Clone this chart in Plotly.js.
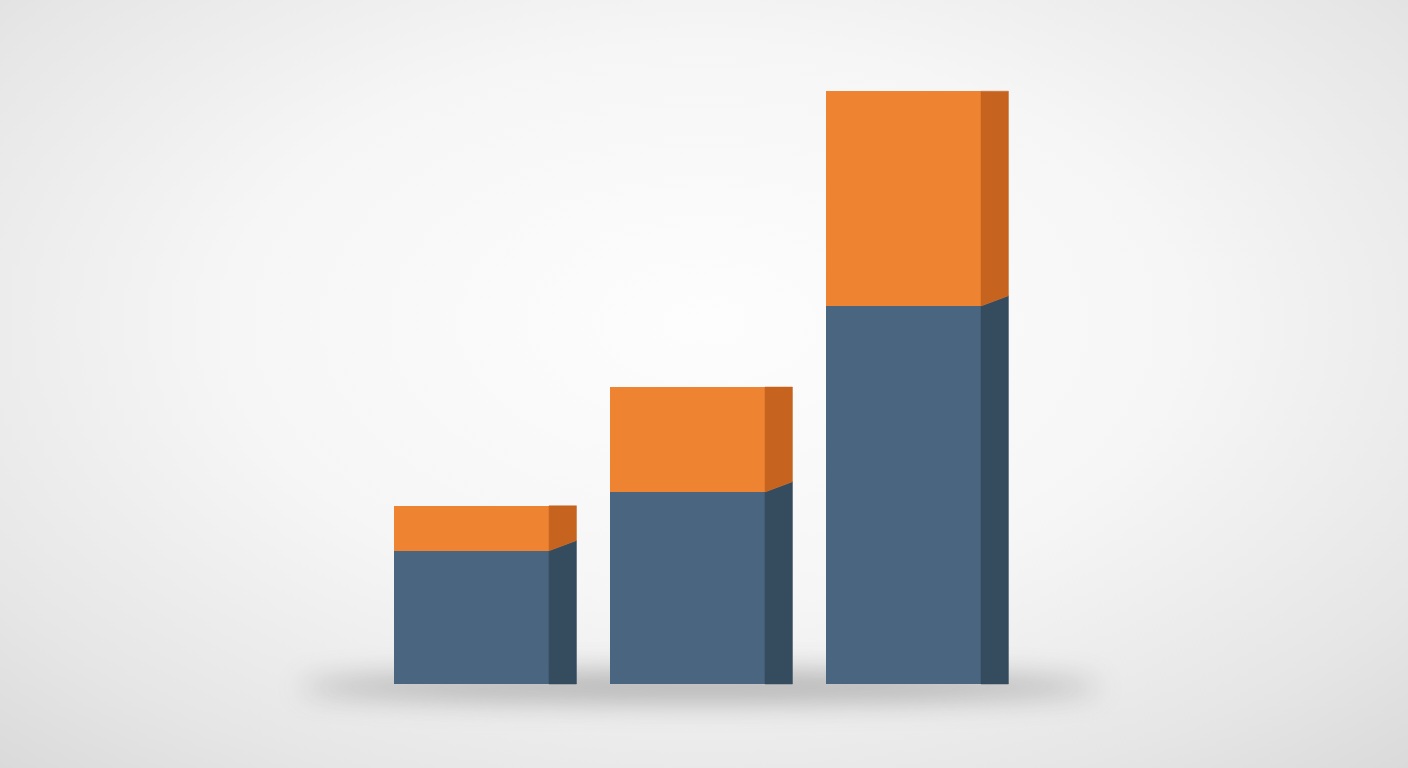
<!DOCTYPE html>
<html>
<head>
<meta charset="utf-8">
<script src="https://cdn.plot.ly/plotly-3.0.1.min.js"></script>
<style>
  html, body { margin:0; padding:0; width:1408px; height:768px; overflow:hidden; }
  body { background: radial-gradient(ellipse 75% 80% at 50% 42%, #fdfdfd 0%, #f6f6f6 45%, #e6e6e6 80%, #d9d9d9 100%); position:relative; }
  #shadow { position:absolute; left:300px; top:672px; width:800px; height:30px; border-radius:50%;
            background: rgba(60,60,60,0.35); filter: blur(14px); }
  #chart { position:absolute; left:0; top:0; width:1408px; height:768px; }
</style>
</head>
<body>
<div id="shadow"></div>
<div id="chart"></div>
<script>
// Data
const categories = [0, 1, 2];
const baseValues = [2.22, 3.20, 6.30];
const topValues  = [0.75, 1.75, 3.58];

// Style constants
const barWidth = 0.718;
const depth = 0.127;
const slant = 0.17;
const blueFront = '#4a6580', blueSide = '#354b5e';
const orangeFront = '#ee8431', orangeSide = '#c6631f';

const sideBlueX = [], sideBlueY = [], sideOrX = [], sideOrY = [];
categories.forEach((c, i) => {
  const xr = c + barWidth / 2, xd = xr + depth;
  const b = baseValues[i], t = b + topValues[i];
  sideBlueX.push(xr, xd, xd, xr, xr, null);
  sideBlueY.push(0, 0, b + slant, b, 0, null);
  sideOrX.push(xr, xd, xd, xr, xr, null);
  sideOrY.push(b, b + slant, t, t, b, null);
});

const traces = [
  { type:'bar', x:categories, y:baseValues, width:barWidth, marker:{color:blueFront, line:{width:0}}, hoverinfo:'skip' },
  { type:'bar', x:categories, y:topValues, width:barWidth, marker:{color:orangeFront, line:{width:0}}, hoverinfo:'skip' },
  { type:'scatter', mode:'lines', x:sideBlueX, y:sideBlueY, fill:'toself', fillcolor:blueSide, line:{color:blueSide, width:0.5}, hoverinfo:'skip' },
  { type:'scatter', mode:'lines', x:sideOrX, y:sideOrY, fill:'toself', fillcolor:orangeSide, line:{color:orangeSide, width:0.5}, hoverinfo:'skip' }
];

const layout = {
  width:1408, height:768,
  margin:{l:0, r:0, t:0, b:0},
  paper_bgcolor:'rgba(0,0,0,0)', plot_bgcolor:'rgba(0,0,0,0)',
  barmode:'stack', showlegend:false,
  xaxis:{range:[-2.183, 4.336], visible:false, showgrid:false, zeroline:false},
  yaxis:{range:[-1.4, 11.4], visible:false, showgrid:false, zeroline:false}
};

Plotly.newPlot('chart', traces, layout, {staticPlot:true, displayModeBar:false});
</script>
</body>
</html>
